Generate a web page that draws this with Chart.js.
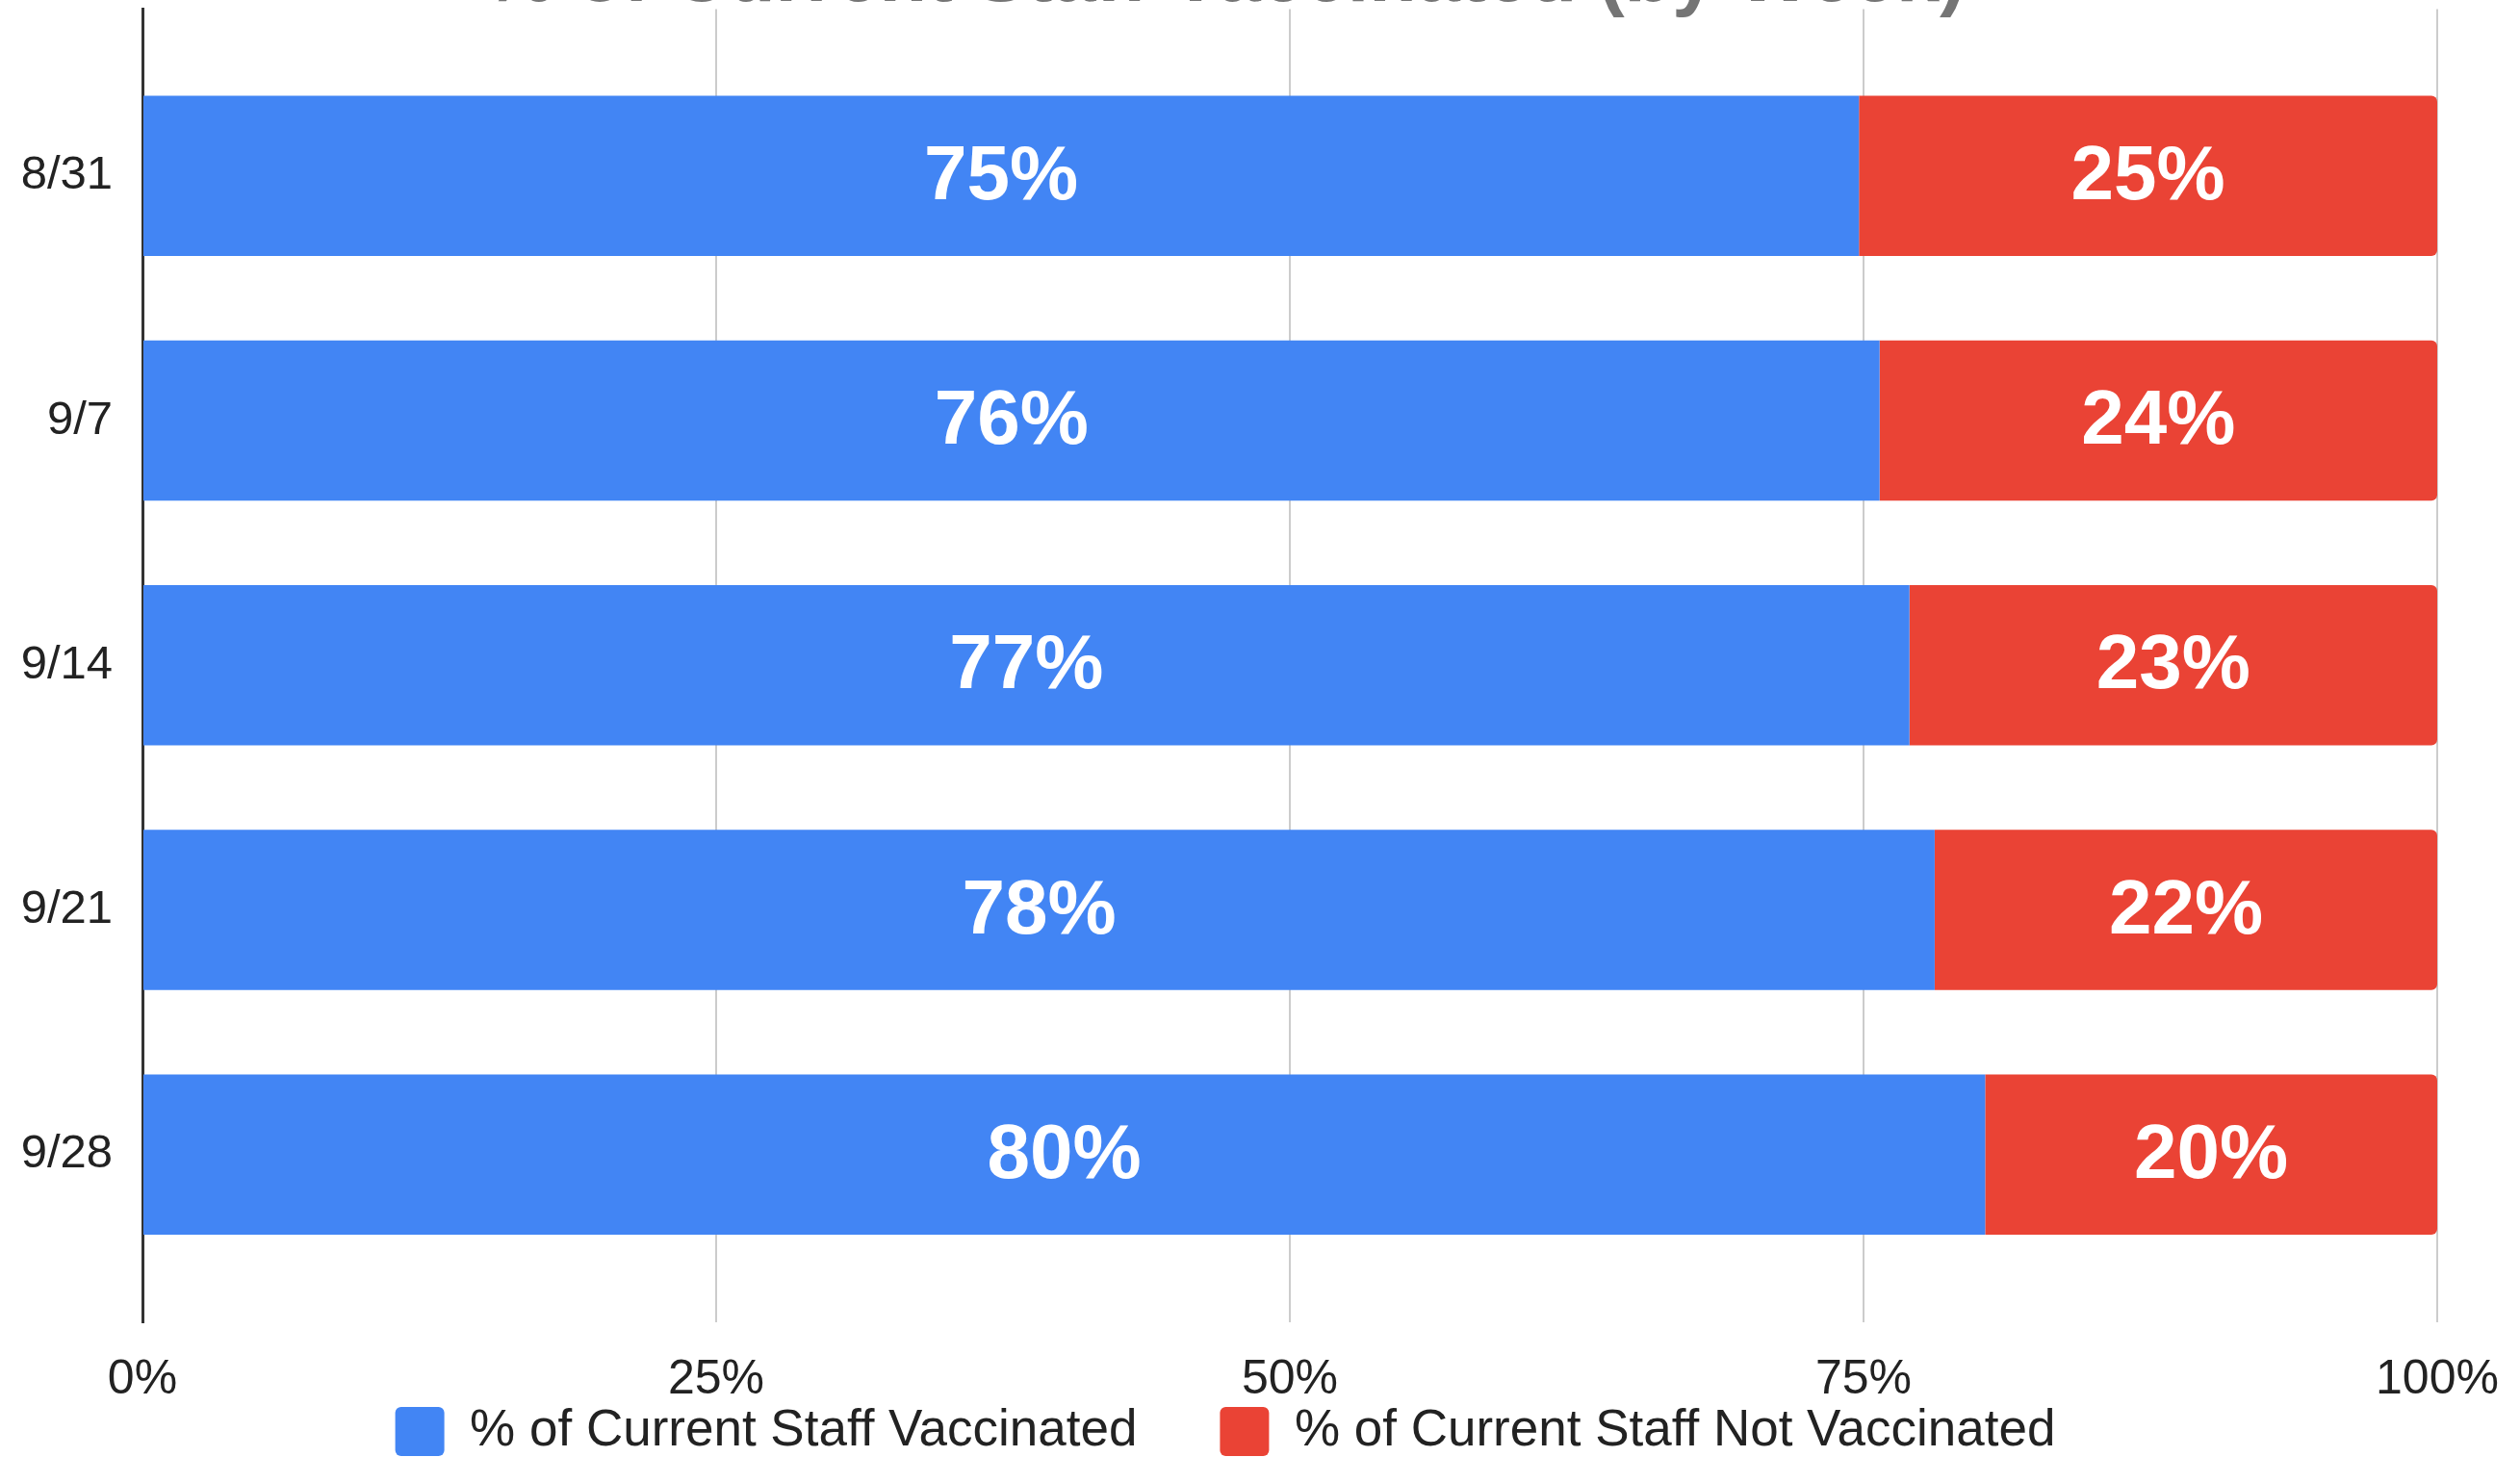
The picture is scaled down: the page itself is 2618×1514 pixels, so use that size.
<!DOCTYPE html>
<html>
<head>
<meta charset="utf-8">
<script src="https://cdn.jsdelivr.net/npm/chart.js@4.4.1/dist/chart.umd.min.js"></script>
<style>
  html, body { margin: 0; padding: 0; background: #ffffff; overflow: hidden; width: 2618px; height: 1514px; }
  #wrap { position: absolute; left: 14px; top: -80px; width: 2604px; height: 1604px; }
  canvas { display: block; }
</style>
</head>
<body>
<div id="wrap"><canvas id="c" width="2604" height="1604"></canvas></div>
<script>
// ---- data ----
const chartTitle = '% of Current Staff Vaccinated (by Week)';
const weeks = ['8/31', '9/7', '9/14', '9/21', '9/28'];
const vaccinated = [74.8, 75.7, 77.0, 78.1, 80.3];
const notVaccinated = [25.2, 24.3, 23.0, 21.9, 19.7];
const seriesNames = ['% of Current Staff Vaccinated', '% of Current Staff Not Vaccinated'];
const xTickValues = [0, 25, 50, 75, 100];

const FONT = "'Liberation Sans', Arial, Helvetica, sans-serif";

const toPoints = (arr) => arr.map((v, i) => ({ x: v, y: i }));

const barLabels = {
  id: 'barLabels',
  afterDatasetsDraw(chart) {
    const ctx = chart.ctx;
    ctx.save();
    ctx.fillStyle = '#ffffff';
    ctx.font = 'bold 80px ' + FONT;
    ctx.textAlign = 'center';
    ctx.textBaseline = 'middle';
    chart.data.datasets.forEach((ds, di) => {
      const meta = chart.getDatasetMeta(di);
      meta.data.forEach((el, i) => {
        const p = el.getCenterPoint();
        ctx.fillText(Math.round(ds.data[i].x) + '%', p.x, p.y + 2);
      });
    });
    ctx.restore();
  }
};

new Chart(document.getElementById('c'), {
  type: 'bar',
  data: {
    datasets: [
      {
        label: seriesNames[0],
        data: toPoints(vaccinated),
        backgroundColor: '#4285F4',
        borderWidth: 0,
        borderRadius: 0
      },
      {
        label: seriesNames[1],
        data: toPoints(notVaccinated),
        backgroundColor: '#EA4335',
        borderWidth: 0,
        borderRadius: 6
      }
    ]
  },
  options: {
    indexAxis: 'y',
    responsive: false,
    animation: false,
    devicePixelRatio: 1,
    barPercentage: 0.655,
    categoryPercentage: 1.0,
    layout: { padding: { left: 0, right: 86, top: 0, bottom: 0 } },
    scales: {
      x: {
        type: 'linear',
        stacked: true,
        min: 0,
        max: 100,
        afterBuildTicks: (scale) => { scale.ticks = xTickValues.map(v => ({ value: v })); },
        afterFit: (scale) => { scale.height = 1; },
        ticks: {
          callback: (v) => v + '%',
          color: '#222222',
          mirror: true,
          padding: -90,
          font: { family: FONT, size: 50 }
        },
        grid: {
          color: (c) => (c.tick && c.tick.value === 0) ? 'rgba(0,0,0,0)' : '#cccccc',
          lineWidth: 2,
          drawTicks: false
        },
        border: { display: false }
      },
      y: {
        type: 'linear',
        stacked: true,
        reverse: true,
        offset: false,
        min: -0.681,
        max: 4.685,
        afterBuildTicks: (scale) => { scale.ticks = weeks.map((_, i) => ({ value: i })); },
        afterFit: (scale) => { scale.width = 134; },
        ticks: {
          callback: (v) => weeks[v],
          color: '#222222',
          padding: 31,
          font: { family: FONT, size: 49 }
        },
        grid: { display: false, drawTicks: false, offset: false },
        border: { display: true, color: '#333333', width: 3 }
      }
    },
    plugins: {
      title: {
        display: true,
        text: chartTitle,
        color: '#757575',
        font: { family: FONT, size: 81, weight: 'bold', lineHeight: 0.6 },
        padding: { top: 34, bottom: 7 }
      },
      legend: {
        display: true,
        position: 'bottom',
        labels: {
          boxWidth: 51,
          boxHeight: 51,
          padding: 86,
          useBorderRadius: true,
          borderRadius: 6,
          color: '#222222',
          font: { family: FONT, size: 53 }
        }
      },
      tooltip: { enabled: false }
    }
  },
  plugins: [barLabels]
});
</script>
</body>
</html>
